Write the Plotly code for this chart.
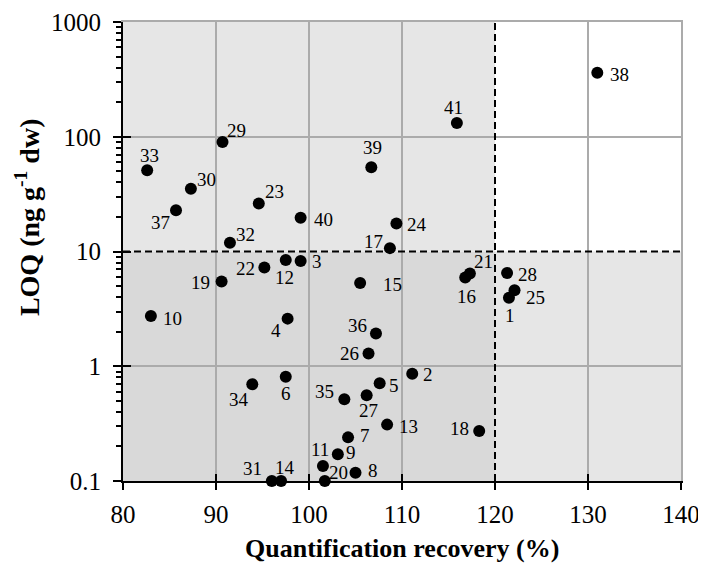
import numpy as np
import plotly.graph_objects as go

# compound number, quantification recovery (%), LOQ (ng/g dw)
compound = [str(i) for i in range(1, 42)]
recovery = [121.5, 111.1, 99.1, 97.7, 107.6, 97.5, 104.2, 105.0, 103.1, 83.0,
            101.5, 97.5, 108.4, 97.0, 105.5, 116.8, 108.7, 118.3, 90.6, 101.7,
            117.3, 95.2, 94.6, 109.4, 122.1, 106.4, 106.2, 121.3, 90.7, 87.3,
            96.0, 91.5, 82.6, 93.9, 103.8, 107.2, 85.7, 131.0, 106.7, 99.1, 115.9]
loq = [3.96, 0.86, 8.26, 2.60, 0.71, 0.81, 0.24, 0.118, 0.171, 2.74,
       0.135, 8.43, 0.31, 0.10, 5.31, 5.93, 10.7, 0.273, 5.47, 0.10,
       6.42, 7.24, 26.2, 17.5, 4.59, 1.29, 0.558, 6.5, 90.0, 35.3,
       0.10, 11.9, 51.0, 0.697, 0.515, 1.93, 22.9, 362, 54.2, 19.7, 132]

x_ticks = [80, 90, 100, 110, 120, 130, 140]
y_ticks = [0.1, 1, 10, 100, 1000]
y_ticktext = ['0.1', '1', '10', '100', '1000']

# thresholds and axis limits
rec_min, rec_max, rec_limit = 80, 140, 120
loq_min, loq_max, loq_limit = 0.1, 1000, 10

# label offsets in pixels (dx, dy) from each point
label_off = [(1, 18), (16, 1), (16, 0), (-12, 12), (14, 2), (0, 17), (17, -2), (17, -2),
             (13, -2), (22, 2), (-3, -17), (-1, 17), (21, 2), (4, -14), (32, 1), (1, 19),
             (-16, -7), (-20, -2), (-21, 1), (14, -9), (14, -12), (-19, 1), (16, -12),
             (21, 1), (21, 7), (-19, 0), (2, 15), (20, 2), (14, -12), (16, -9), (-19, -13),
             (16, -8), (2, -15), (-13, 15), (-20, -8), (-18, -8), (-16, 12), (22, 2),
             (1, -20), (23, 2), (-3, -15)]

serif = 'Liberation Serif'
grid_col = '#ababab'
dark_bg = '#d9d9d9'
light_bg = '#e6e6e6'

fig = go.Figure()
fig.add_trace(go.Scatter(x=recovery, y=loq, mode='markers',
                         marker=dict(size=12, color='black'),
                         cliponaxis=False, showlegend=False))
# helper traces so the overlay axes get drawn
fig.add_trace(go.Scatter(x=[100], y=[1], xaxis='x2', yaxis='y2', mode='markers',
                         marker=dict(opacity=0), hoverinfo='skip', showlegend=False))
fig.add_trace(go.Scatter(x=[100], y=[1], xaxis='x3', yaxis='y3', mode='markers',
                         marker=dict(opacity=0), hoverinfo='skip', showlegend=False))

yr = [np.log10(loq_min), np.log10(loq_max)]
minor_vals = [k * 10.0 ** e for e in range(-1, 3) for k in range(2, 10)]

# page body has an 8px margin, so the figure is a bit smaller than the window
fig.update_layout(
    width=698, height=559,
    margin=dict(l=115, r=25, t=14, b=86, autoexpand=False),
    paper_bgcolor='white', plot_bgcolor='white',
    font=dict(family=serif, color='black'),
    xaxis=dict(range=[rec_min, rec_max], tickvals=x_ticks, ticks='outside', ticklen=7,
               tickwidth=2, tickcolor='black', showline=True, linecolor='black',
               linewidth=2, showgrid=False, zeroline=False, layer='below traces',
               tickfont=dict(family=serif, size=25, color='black'), ticklabelstandoff=3),
    yaxis=dict(type='log', range=yr, tickvals=y_ticks, ticktext=y_ticktext,
               ticks='outside', ticklen=8, tickwidth=2, tickcolor='black',
               showline=True, linecolor='black', linewidth=2, showgrid=False,
               zeroline=False, layer='below traces',
               minor=dict(tickmode='array', tickvals=minor_vals, ticks='outside',
                          ticklen=5, tickwidth=1.5, tickcolor='black', showgrid=False),
               tickfont=dict(family=serif, size=25, color='black'), ticklabelstandoff=7),
    xaxis2=dict(overlaying='x', anchor='y2', side='bottom', range=[rec_min, rec_max],
                tickvals=x_ticks, ticks='inside', ticklen=7, tickwidth=2,
                tickcolor='black', showticklabels=False, showgrid=False,
                zeroline=False, showline=False, layer='below traces'),
    yaxis2=dict(overlaying='y', anchor='x2', side='left', type='log', range=yr,
                tickvals=y_ticks, ticks='inside', ticklen=8, tickwidth=2,
                tickcolor='black', showticklabels=False, showgrid=False,
                zeroline=False, showline=False, layer='below traces'),
    xaxis3=dict(overlaying='x', anchor='y3', side='top', range=[rec_min, rec_max],
                tickvals=[90, 100, 110, 130], ticks='', showticklabels=False,
                showgrid=True, gridcolor=grid_col, gridwidth=2, zeroline=False,
                showline=True, linecolor=grid_col, linewidth=2, layer='below traces'),
    yaxis3=dict(overlaying='y', anchor='x3', side='right', type='log', range=yr,
                tickvals=[1, 100], ticks='', showticklabels=False,
                showgrid=True, gridcolor=grid_col, gridwidth=2, zeroline=False,
                showline=True, linecolor=grid_col, linewidth=2, layer='below traces'),
)

# shaded zones
fig.add_shape(type='rect', xref='x', yref='y', x0=rec_min, x1=rec_limit, y0=loq_min,
              y1=loq_limit, fillcolor=dark_bg, line_width=0, layer='below')
fig.add_shape(type='rect', xref='x', yref='y', x0=rec_min, x1=rec_limit, y0=loq_limit,
              y1=loq_max, fillcolor=light_bg, line_width=0, layer='below')
fig.add_shape(type='rect', xref='x', yref='y', x0=rec_limit, x1=rec_max, y0=loq_min,
              y1=loq_limit, fillcolor=light_bg, line_width=0, layer='below')
# threshold lines
fig.add_shape(type='line', xref='x', yref='y', x0=rec_limit, x1=rec_limit, y0=loq_min,
              y1=loq_max, line=dict(color='black', width=2, dash='7px,4px'))
fig.add_shape(type='line', xref='x', yref='y', x0=rec_min, x1=rec_max, y0=loq_limit,
              y1=loq_limit, line=dict(color='black', width=2, dash='7px,4px'))

for name, xv, yv, (dx, dy) in zip(compound, recovery, loq, label_off):
    fig.add_annotation(x=xv, y=np.log10(yv), xref='x', yref='y', text=name,
                       showarrow=True, arrowcolor='rgba(0,0,0,0)', ax=dx, ay=dy,
                       font=dict(family=serif, size=19, color='black'))

fig.add_annotation(text='<b>Quantification recovery (%)</b>', xref='paper', yref='paper',
                   x=0.5, y=-0.146, xanchor='center', yanchor='middle', showarrow=False,
                   font=dict(family=serif, size=26, color='black'))
fig.add_annotation(text='<b>LOQ (ng g<sup>-1</sup> dw)</b>', xref='paper', yref='paper',
                   x=-0.172, y=0.575, xanchor='center', yanchor='middle', showarrow=False,
                   textangle=-90, font=dict(family=serif, size=28, color='black'))

fig.write_html('out.html')
